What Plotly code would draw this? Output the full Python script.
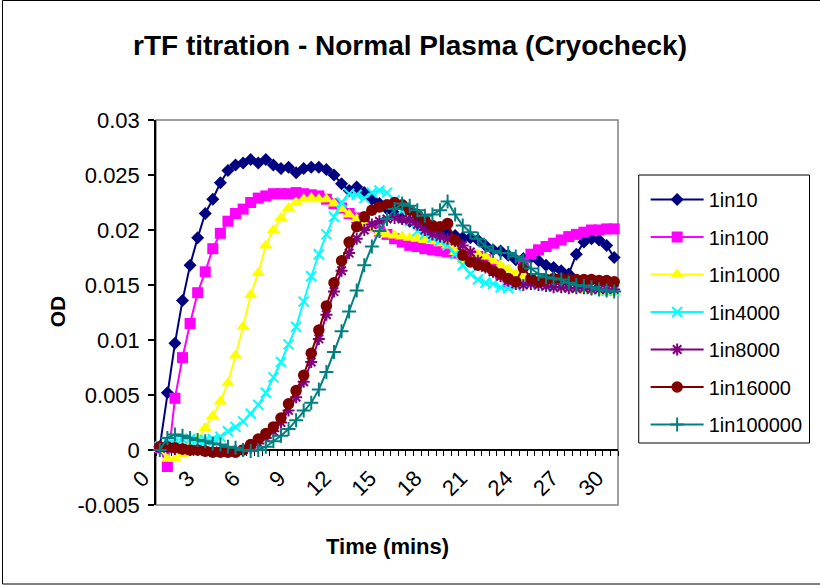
import plotly.graph_objects as go

# Time categories (mins), one reading every 30 s
time_mins = [i * 0.5 for i in range(61)]
x_tick_vals = [0, 3, 6, 9, 12, 15, 18, 21, 24, 27, 30]
x_tick_text = [str(v) for v in x_tick_vals]
y_tick_vals = [-0.005, 0, 0.005, 0.01, 0.015, 0.02, 0.025, 0.03]
y_tick_text = ["-0.005", "0", "0.005", "0.01", "0.015", "0.02", "0.025", "0.03"]

s_1in10 = [0.0003, 0.0052, 0.0097, 0.0136, 0.0168, 0.0193, 0.0215, 0.0228, 0.0243, 0.0254,
           0.0259, 0.0261, 0.0264, 0.0261, 0.0264, 0.0259, 0.0256, 0.0257, 0.0252, 0.0256,
           0.0257, 0.0257, 0.0255, 0.0250, 0.0242, 0.0236, 0.0239, 0.0234, 0.0228, 0.0224,
           0.0219, 0.0215, 0.0211, 0.0208, 0.0205, 0.0203, 0.0201, 0.0199, 0.0197, 0.0195,
           0.0193, 0.0193, 0.0191, 0.0186, 0.0182, 0.0181, 0.0177, 0.0173, 0.0174, 0.0175,
           0.0172, 0.0168, 0.0166, 0.0163, 0.0160, 0.0178, 0.0189, 0.0192, 0.0191, 0.0186,
           0.0175]
s_1in100 = [0.0002, -0.0015, 0.0047, 0.0084, 0.0115, 0.0143, 0.0162, 0.0183, 0.0197, 0.0208,
            0.0215, 0.0219, 0.0225, 0.0229, 0.0231, 0.0233, 0.0233, 0.0233, 0.0234, 0.0233,
            0.0232, 0.0231, 0.0228, 0.0224, 0.0220, 0.0215, 0.0211, 0.0207, 0.0203, 0.0199,
            0.0196, 0.0192, 0.0189, 0.0186, 0.0185, 0.0183, 0.0182, 0.0181, 0.0180, 0.0179,
            0.0178, 0.0177, 0.0176, 0.0173, 0.0168, 0.0160, 0.0152, 0.0155, 0.0170, 0.0178,
            0.0182, 0.0185, 0.0188, 0.0191, 0.0194, 0.0196, 0.0198, 0.0200, 0.0200, 0.0201,
            0.0201]
s_1in1000 = [0.0001, -0.0008, -0.0008, -0.0004, 0.0003, 0.0010, 0.0020, 0.0031, 0.0044, 0.0061,
             0.0086, 0.0112, 0.0141, 0.0161, 0.0186, 0.0200, 0.0211, 0.0220, 0.0225, 0.0228,
             0.0229, 0.0228, 0.0228, 0.0224, 0.0219, 0.0214, 0.0210, 0.0205, 0.0201, 0.0198,
             0.0196, 0.0195, 0.0194, 0.0193, 0.0192, 0.0191, 0.0190, 0.0188, 0.0186, 0.0180,
             0.0172, 0.0180, 0.0178, 0.0176, 0.0172, 0.0168, 0.0164, 0.0160, 0.0156, 0.0153,
             0.0151, 0.0150, 0.0149, 0.0148, 0.0147, 0.0146, 0.0145, 0.0145, 0.0144, 0.0143,
             0.0143]
s_1in4000 = [0.0003, 0.0007, 0.0009, 0.0010, 0.0010, 0.0009, 0.0009, 0.0010, 0.0012, 0.0017,
             0.0021, 0.0026, 0.0033, 0.0041, 0.0052, 0.0066, 0.0080, 0.0096, 0.0112, 0.0135,
             0.0158, 0.0178, 0.0196, 0.0212, 0.0225, 0.0233, 0.0232, 0.0229, 0.0234, 0.0236,
             0.0234, 0.0227, 0.0218, 0.0208, 0.0199, 0.0196, 0.0193, 0.0190, 0.0186, 0.0178,
             0.0168, 0.0160, 0.0155, 0.0152, 0.0151, 0.0148, 0.0147, 0.0149, 0.0152, 0.0151,
             0.0150, 0.0149, 0.0149, 0.0148, 0.0148, 0.0147, 0.0147, 0.0146, 0.0146, 0.0145,
             0.0145]
s_1in8000 = [0.0002, 0.0002, 0.0001, 0.0001, 0.0000, 0.0000, -0.0001, -0.0001, -0.0001, -0.0001,
             -0.0001, 0.0000, 0.0002, 0.0006, 0.0011, 0.0017, 0.0025, 0.0036, 0.0048, 0.0062,
             0.0080, 0.0101, 0.0123, 0.0144, 0.0163, 0.0179, 0.0192, 0.0200, 0.0205, 0.0208,
             0.0210, 0.0211, 0.0210, 0.0209, 0.0205, 0.0200, 0.0196, 0.0194, 0.0192, 0.0190,
             0.0186, 0.0180, 0.0172, 0.0166, 0.0162, 0.0158, 0.0154, 0.0151, 0.0150, 0.0151,
             0.0150, 0.0149, 0.0148, 0.0148, 0.0147, 0.0147, 0.0147, 0.0146, 0.0146, 0.0146,
             0.0146]
s_1in16000 = [0.0003, 0.0003, 0.0002, 0.0001, 0.0000, 0.0000, -0.0001, -0.0002, -0.0002, -0.0002,
              -0.0002, 0.0000, 0.0005, 0.0010, 0.0015, 0.0021, 0.0029, 0.0042, 0.0054, 0.0068,
              0.0088, 0.0109, 0.0131, 0.0152, 0.0172, 0.0189, 0.0203, 0.0212, 0.0218, 0.0221,
              0.0223, 0.0225, 0.0223, 0.0218, 0.0214, 0.0209, 0.0204, 0.0203, 0.0206, 0.0191,
              0.0177, 0.0171, 0.0168, 0.0167, 0.0163, 0.0160, 0.0156, 0.0153, 0.0166, 0.0156,
              0.0153, 0.0155, 0.0156, 0.0156, 0.0155, 0.0155, 0.0155, 0.0155, 0.0154, 0.0154,
              0.0153]
s_1in100000 = [0.0000, 0.0011, 0.0014, 0.0013, 0.0011, 0.0009, 0.0008, 0.0006, 0.0005, 0.0003,
               0.0002, 0.0000, -0.0001, 0.0000, 0.0003, 0.0008, 0.0013, 0.0019, 0.0027, 0.0036,
               0.0043, 0.0055, 0.0071, 0.0089, 0.0108, 0.0126, 0.0145, 0.0168, 0.0185, 0.0199,
               0.0210, 0.0219, 0.0224, 0.0222, 0.0218, 0.0213, 0.0214, 0.0218, 0.0226, 0.0214,
               0.0204, 0.0198, 0.0192, 0.0185, 0.0181, 0.0179, 0.0179, 0.0176, 0.0172, 0.0165,
               0.0160, 0.0157, 0.0156, 0.0155, 0.0152, 0.0150, 0.0149, 0.0148, 0.0146, 0.0145,
               0.0144]

series_names = ["1in10", "1in100", "1in1000", "1in4000", "1in8000", "1in16000", "1in100000"]
series_values = [s_1in10, s_1in100, s_1in1000, s_1in4000, s_1in8000, s_1in16000, s_1in100000]
colors = ["#000080", "#FF00FF", "#FFFF00", "#00FFFF", "#800080", "#800000", "#008080"]
symbols = ["diamond", "square", "triangle-up", "x-thin", "asterisk", "circle", "cross-thin"]
sizes = [10, 11, 12, 10, 10, 11.5, 10]

FONT = "Arial, Liberation Sans, sans-serif"

fig = go.Figure()
for name, vals, col, sym, sz in zip(series_names, series_values, colors, symbols, sizes):
    thin = sym in ("x-thin", "asterisk", "cross-thin")
    fig.add_trace(go.Scatter(
        x=time_mins, y=vals, name=name, mode="lines+markers", legendgroup=name,
        line=dict(color=col, width=2),
        marker=dict(symbol=sym, size=sz, color=col,
                    line=dict(color=col, width=2 if thin else 0)),
        cliponaxis=False,
    ))

def px_x(px):
    return (px - 156) / 468

def px_y(py):
    return (505 - py) / 385

# plot-area frame (gray), legend box and outer chart border
fig.add_shape(type="rect", xref="x domain", yref="y domain", x0=0, x1=1, y0=0, y1=1,
              line=dict(color="#808080", width=1.5), layer="below")
fig.add_shape(type="rect", xref="paper", yref="paper",
              x0=px_x(0.5), x1=px_x(830), y0=px_y(584), y1=px_y(0.5),
              line=dict(color="black", width=1), layer="below")
fig.add_shape(type="rect", xref="paper", yref="paper",
              x0=px_x(645), x1=px_x(818), y0=px_y(443), y1=px_y(175),
              line=dict(color="black", width=1), fillcolor="white", layer="below")

fig.update_layout(
    width=820, height=585,
    margin=dict(l=156, r=196, t=120, b=80),
    paper_bgcolor="white", plot_bgcolor="white",
    font=dict(family=FONT, size=22, color="black"),
    title=dict(text="<b>rTF titration - Normal Plasma (Cryocheck)</b>",
               x=0.5, xref="container", xanchor="center",
               y=1 - 45 / 585, yref="container", yanchor="middle",
               font=dict(family=FONT, size=28, color="black")),
    legend=dict(x=px_x(652), y=px_y(180), xanchor="left", yanchor="top",
                borderwidth=0, bgcolor="rgba(0,0,0,0)",
                font=dict(family=FONT, size=20, color="black"),
                traceorder="grouped", tracegroupgap=8.5, itemwidth=53),
    showlegend=True,
)

fig.update_xaxes(
    range=[-0.25, 30.25], anchor="free", position=1 / 7,
    showgrid=False, zeroline=False,
    showline=True, linecolor="black", linewidth=1.5,
    tickmode="array", tickvals=x_tick_vals, ticktext=x_tick_text,
    ticks="", tickangle=-45, ticklabelshift=-17, ticklabelstandoff=6,
    tickfont=dict(family=FONT, size=22, color="black"),
    minor=dict(tickmode="array", tickvals=[-0.25 + 0.5 * k for k in range(62)],
               ticks="outside", ticklen=5, tickwidth=1, tickcolor="black", showgrid=False),
    layer="below traces",
)
fig.update_yaxes(
    range=[-0.005, 0.03], showgrid=False, zeroline=False,
    showline=True, linecolor="black", linewidth=1.5,
    tickmode="array", tickvals=y_tick_vals, ticktext=y_tick_text,
    ticks="outside", ticklen=6, tickcolor="black", tickwidth=1.5,
    ticklabelstandoff=4,
    tickfont=dict(family=FONT, size=22, color="black"),
    layer="below traces",
)

fig.add_annotation(text="<b>OD</b>", xref="paper", yref="paper",
                   x=px_x(56), y=px_y(311), textangle=-90,
                   xanchor="center", yanchor="middle",
                   showarrow=False, font=dict(family=FONT, size=21, color="black"))
fig.add_annotation(text="<b>Time (mins)</b>", xref="paper", yref="paper",
                   x=0.5, y=px_y(546), xanchor="center", yanchor="middle",
                   showarrow=False, font=dict(family=FONT, size=22, color="black"))

fig.write_html("out.html")
